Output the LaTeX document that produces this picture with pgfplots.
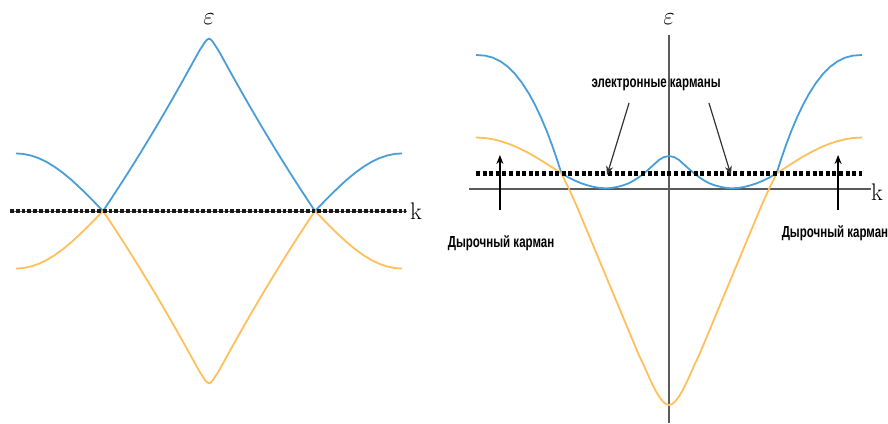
\documentclass[border=0pt]{standalone}
\usepackage{fontspec}
\usepackage{pgfplots}
\usepackage{pgfplotstable}
\pgfplotsset{compat=1.18}
\usetikzlibrary{arrows.meta}
\newfontfamily\narrowfont[FakeStretch=0.72]{Liberation Sans}
\definecolor{bandblue}{RGB}{74,158,216}
\definecolor{bandorange}{RGB}{255,192,92}
\definecolor{axisgray}{RGB}{90,90,90}
\newcommand{\lbl}{\narrowfont\bfseries\fontsize{16}{18}\selectfont}

% left panel: two bands touching at the Fermi level
\pgfplotstableread{
k        upper   lower
-1.0     1.010  -1.010
-0.9637  1.002  -1.002
-0.9223  0.973  -0.973
-0.8808  0.925  -0.925
-0.8394  0.856  -0.856
-0.7979  0.770  -0.770
-0.7565  0.668  -0.668
-0.7150  0.552  -0.552
-0.6736  0.424  -0.424
-0.6321  0.288  -0.288
-0.5907  0.145  -0.145
-0.5492  0.000   0.000
-0.5181  0.157  -0.157
-0.4870  0.317  -0.317
-0.4560  0.479  -0.479
-0.4249  0.643  -0.643
-0.3938  0.810  -0.810
-0.3627  0.979  -0.979
-0.3316  1.151  -1.151
-0.3005  1.325  -1.325
-0.2694  1.501  -1.501
-0.2383  1.680  -1.680
-0.2073  1.861  -1.861
-0.1762  2.045  -2.045
-0.1451  2.231  -2.231
-0.1140  2.419  -2.419
-0.0829  2.610  -2.610
-0.0622  2.738  -2.738
-0.0466  2.830  -2.830
-0.0311  2.910  -2.910
-0.0207  2.965  -2.965
-0.0104  3.005  -3.005
 0.0     3.025  -3.025
 0.0104  3.005  -3.005
 0.0207  2.965  -2.965
 0.0311  2.910  -2.910
 0.0466  2.830  -2.830
 0.0622  2.738  -2.738
 0.0829  2.610  -2.610
 0.1140  2.419  -2.419
 0.1451  2.231  -2.231
 0.1762  2.045  -2.045
 0.2073  1.861  -1.861
 0.2383  1.680  -1.680
 0.2694  1.501  -1.501
 0.3005  1.325  -1.325
 0.3316  1.151  -1.151
 0.3627  0.979  -0.979
 0.3938  0.810  -0.810
 0.4249  0.643  -0.643
 0.4560  0.479  -0.479
 0.4870  0.317  -0.317
 0.5181  0.157  -0.157
 0.5492  0.000   0.000
 0.5907  0.145  -0.145
 0.6321  0.288  -0.288
 0.6736  0.424  -0.424
 0.7150  0.552  -0.552
 0.7565  0.668  -0.668
 0.7979  0.770  -0.770
 0.8394  0.856  -0.856
 0.8808  0.925  -0.925
 0.9223  0.973  -0.973
 0.9637  1.002  -1.002
 1.0     1.010  -1.010
}\touching

% right panel: upper band with the central bump
\pgfplotstableread{
k        E
-1.0     2.978
-0.9534  2.964
-0.9119  2.918
-0.8705  2.829
-0.8342  2.713
-0.7979  2.557
-0.7617  2.359
-0.7254  2.116
-0.6943  1.871
-0.6632  1.590
-0.6321  1.272
-0.6062  0.978
-0.5803  0.656
-0.5570  0.344
-0.5181  0.250
-0.4870  0.185
-0.4560  0.130
-0.4249  0.085
-0.3938  0.050
-0.3627  0.025
-0.3264  0.015
-0.3005  0.022
-0.2694  0.045
-0.2383  0.080
-0.2073  0.130
-0.1813  0.190
-0.1554  0.265
-0.1295  0.350
-0.1036  0.445
-0.0777  0.545
-0.0518  0.645
-0.0259  0.710
 0.0     0.733
 0.0259  0.710
 0.0518  0.645
 0.0777  0.545
 0.1036  0.445
 0.1295  0.350
 0.1554  0.265
 0.1813  0.190
 0.2073  0.130
 0.2383  0.080
 0.2694  0.045
 0.3005  0.022
 0.3264  0.015
 0.3627  0.025
 0.3938  0.050
 0.4249  0.085
 0.4560  0.130
 0.4870  0.185
 0.5181  0.250
 0.5570  0.344
 0.5803  0.656
 0.6062  0.978
 0.6321  1.272
 0.6632  1.590
 0.6943  1.871
 0.7254  2.116
 0.7617  2.359
 0.7979  2.557
 0.8342  2.713
 0.8705  2.829
 0.9119  2.918
 0.9534  2.964
 1.0     2.978
}\upperband

% right panel: lower band
\pgfplotstableread{
k        E
-1.0     1.144
-0.9534  1.133
-0.9119  1.105
-0.8705  1.061
-0.8342  1.010
-0.7979  0.947
-0.7617  0.875
-0.7254  0.794
-0.6943  0.718
-0.6632  0.638
-0.6321  0.555
-0.6062  0.483
-0.5803  0.410
-0.5570  0.344
-0.5389  0.180
-0.5181  0.000
-0.4819 -0.341
-0.4456 -0.714
-0.4041 -1.140
-0.3627 -1.567
-0.3212 -1.993
-0.2798 -2.419
-0.2383 -2.846
-0.1969 -3.273
-0.1554 -3.699
-0.1347 -3.880
-0.1140 -4.080
-0.0933 -4.280
-0.0725 -4.460
-0.0518 -4.610
-0.0311 -4.725
-0.0155 -4.780
 0.0    -4.800
 0.0155 -4.780
 0.0311 -4.725
 0.0518 -4.610
 0.0725 -4.460
 0.0933 -4.280
 0.1140 -4.080
 0.1347 -3.880
 0.1554 -3.699
 0.1969 -3.273
 0.2383 -2.846
 0.2798 -2.419
 0.3212 -1.993
 0.3627 -1.567
 0.4041 -1.140
 0.4456 -0.714
 0.4819 -0.341
 0.5181  0.000
 0.5389  0.180
 0.5570  0.344
 0.5803  0.410
 0.6062  0.483
 0.6321  0.555
 0.6632  0.638
 0.6943  0.718
 0.7254  0.794
 0.7617  0.875
 0.7979  0.947
 0.8342  1.010
 0.8705  1.061
 0.9119  1.105
 0.9534  1.133
 1.0     1.144
}\lowerband

\begin{document}
\begin{tikzpicture}[x=1pt,y=1pt]
\useasboundingbox (0,0) rectangle (888,423);

% ---------- left panel ----------
\begin{axis}[at={(16pt,29.6pt)}, anchor=south west, scale only axis,
  width=386pt, height=364.8pt, xmin=-1, xmax=1, ymin=-3.2, ymax=3.2,
  hide axis, clip=false]
\addplot[axisgray, line width=1pt] coordinates {(-1.031,0) (1.026,0)};
\addplot[bandblue, line width=1.8pt, line join=round] table[x=k, y=upper] {\touching};
\addplot[bandorange, line width=1.8pt, line join=round] table[x=k, y=lower] {\touching};
% Fermi level
\addplot[black!90, line width=4pt, dash pattern=on 3.8pt off 2pt] coordinates {(-1.031,0) (1.02,0)};
\node at (axis cs:0,3.37) {\fontsize{32}{34}\selectfont$\varepsilon$};
\node at (axis cs:1.0725,0) {\fontsize{24}{26}\selectfont k};
\end{axis}

% ---------- right panel ----------
\begin{axis}[at={(476pt,9pt)}, anchor=south west, scale only axis,
  width=386pt, height=369pt, xmin=-1, xmax=1, ymin=-5, ymax=3.2,
  hide axis, clip=false]
\addplot[axisgray, line width=1.3pt] coordinates {(-1.036,0) (1.047,0)};
\addplot[axisgray, line width=1.3pt] coordinates {(0,3.422) (0,-5.2)};
\addplot[bandblue, line width=1.8pt, line join=round] table[x=k, y=E] {\upperband};
\addplot[bandorange, line width=1.8pt, line join=round] table[x=k, y=E] {\lowerband};
% Fermi level
\addplot[black, line width=4.2pt, dash pattern=on 4pt off 2.6pt] coordinates {(-1,0.344) (1,0.344)};
\node at (axis cs:0,3.78) {\fontsize{32}{34}\selectfont$\varepsilon$};
\node at (axis cs:1.078,-0.067) {\fontsize{24}{26}\selectfont k};
% electron pockets
\node at (axis cs:-0.067,2.311) {\lbl электронные карманы};
\draw[black!80, line width=1.2pt, -{Stealth[length=9pt,width=7pt]}]
  (axis cs:-0.207,1.911) -- (axis cs:-0.321,0.311);
\draw[black!80, line width=1.2pt, -{Stealth[length=9pt,width=7pt]}]
  (axis cs:0.207,1.911) -- (axis cs:0.321,0.311);
% hole pockets
\draw[black, line width=1.4pt, -{Stealth[length=9pt,width=7pt]}]
  (axis cs:-0.876,-0.467) -- (axis cs:-0.876,0.756);
\draw[black, line width=1.4pt, -{Stealth[length=9pt,width=7pt]}]
  (axis cs:0.876,-0.467) -- (axis cs:0.876,0.756);
\node at (axis cs:-0.87,-1.2) {\lbl Дырочный карман};
\node at (axis cs:0.86,-0.978) {\lbl Дырочный карман};
\end{axis}
\end{tikzpicture}
\end{document}
